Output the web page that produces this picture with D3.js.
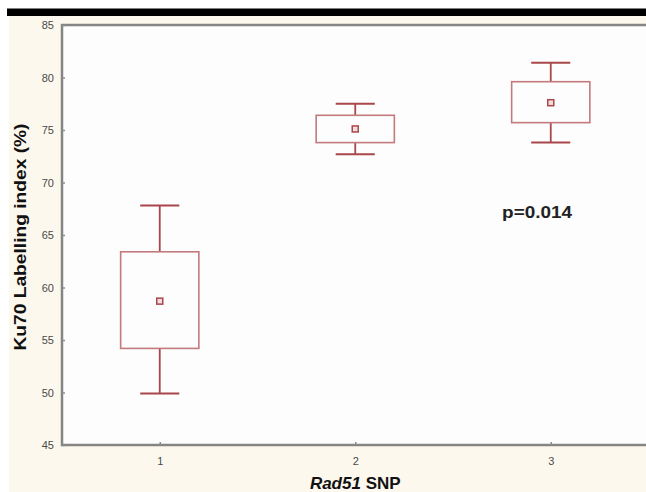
<!DOCTYPE html>
<html>
<head>
<meta charset="utf-8">
<script src="https://cdn.jsdelivr.net/npm/d3@7"></script>
<style>
  body { margin: 0; background: #ffffff; overflow: hidden; }
  svg { display: block; font-family: "Liberation Sans", Arial, sans-serif; }
</style>
</head>
<body>
<script>
// values
let categories = [1, 2, 3];
let whiskLow = [49.9, 72.7, 73.8];
let q1 = [54.2, 73.8, 75.7];
let medians = [58.7, 75.1, 77.6];
let q3 = [63.4, 76.4, 79.6];
let whiskHigh = [67.8, 77.5, 81.4];
let yTicks = [45, 50, 55, 60, 65, 70, 75, 80, 85];
let pLabel = "p=0.014";

let width = 646, height = 492;
let plotLeft = 62, plotRight = 648.5, plotTop = 25, plotBottom = 445;
let lineColor = "#a9474b";

var svg = d3.select("body").append("svg")
    .attr("width", width)
    .attr("height", height);

// page background: white strip, black bar, cream panel
svg.append("rect").attr("x", 0).attr("y", 0).attr("width", width).attr("height", height).attr("fill", "#ffffff");
svg.append("rect").attr("x", 9).attr("y", 16).attr("width", width - 9).attr("height", height - 16).attr("fill", "#fdf8ee");
svg.append("rect").attr("x", 7).attr("y", 8.5).attr("width", width - 7).attr("height", 7.5).attr("fill", "#000000");

var xScale = d3.scaleLinear()
    .domain([0.5, 3.5])
    .range([plotLeft, plotRight]);

var yScale = d3.scaleLinear()
    .domain([45, 85])
    .range([plotBottom, plotTop]);

// plot area
svg.append("rect")
    .attr("x", plotLeft).attr("y", plotTop)
    .attr("width", plotRight - plotLeft).attr("height", plotBottom - plotTop)
    .attr("fill", "#fdfdfd")
    .attr("stroke", "#858585")
    .attr("stroke-width", 2.5);

var yAxis = d3.axisLeft(yScale)
    .tickValues(yTicks)
    .tickSize(-3)
    .tickPadding(8)
    .tickFormat(d3.format("d"));
var xAxis = d3.axisBottom(xScale)
    .tickValues(categories)
    .tickSize(-3)
    .tickPadding(12)
    .tickFormat(d3.format("d"));

svg.append("g")
    .attr("class", "y axis")
    .attr("transform", "translate(" + plotLeft + ",0)")
    .call(yAxis);
svg.append("g")
    .attr("class", "x axis")
    .attr("transform", "translate(0," + plotBottom + ")")
    .call(xAxis);

svg.selectAll(".axis .domain").remove();
svg.selectAll(".axis .tick line").attr("stroke", "#8c8c8c").attr("stroke-width", 1.5);
svg.selectAll(".axis .tick text")
    .attr("fill", "#4a4a4a")
    .style("font-size", "11px");

// boxes
let boxW = 0.4, capW = 0.2;
let boxes = svg.append("g").attr("class", "boxes");
for (let i = 0; i < categories.length; ++i) {
    let c = categories[i];
    let g = boxes.append("g");
    // whisker stems
    g.append("line")
        .attr("x1", xScale(c)).attr("x2", xScale(c))
        .attr("y1", yScale(q3[i])).attr("y2", yScale(whiskHigh[i]))
        .attr("stroke", lineColor).attr("stroke-width", 1.8);
    g.append("line")
        .attr("x1", xScale(c)).attr("x2", xScale(c))
        .attr("y1", yScale(q1[i])).attr("y2", yScale(whiskLow[i]))
        .attr("stroke", lineColor).attr("stroke-width", 1.8);
    // caps
    g.append("line")
        .attr("x1", xScale(c - capW / 2)).attr("x2", xScale(c + capW / 2))
        .attr("y1", yScale(whiskHigh[i])).attr("y2", yScale(whiskHigh[i]))
        .attr("stroke", lineColor).attr("stroke-width", 2);
    g.append("line")
        .attr("x1", xScale(c - capW / 2)).attr("x2", xScale(c + capW / 2))
        .attr("y1", yScale(whiskLow[i])).attr("y2", yScale(whiskLow[i]))
        .attr("stroke", lineColor).attr("stroke-width", 2);
    // box
    g.append("rect")
        .attr("x", xScale(c - boxW / 2))
        .attr("y", yScale(q3[i]))
        .attr("width", xScale(c + boxW / 2) - xScale(c - boxW / 2))
        .attr("height", yScale(q1[i]) - yScale(q3[i]))
        .attr("fill", "none")
        .attr("stroke", "#c47a7d").attr("stroke-width", 1.6);
    // median marker
    g.append("rect")
        .attr("x", xScale(c) - 3).attr("y", yScale(medians[i]) - 3)
        .attr("width", 6).attr("height", 6)
        .attr("fill", "#f3dede")
        .attr("stroke", lineColor).attr("stroke-width", 1.5);
}

// annotation
svg.append("text")
    .attr("x", xScale(2.93))
    .attr("y", yScale(66.6))
    .attr("text-anchor", "middle")
    .attr("fill", "#222222")
    .attr("textLength", 70)
    .attr("lengthAdjust", "spacingAndGlyphs")
    .style("font-size", "17px")
    .style("font-weight", "bold")
    .text(pLabel);

// axis titles
svg.append("text")
    .attr("transform", "translate(26," + 237 + ") rotate(-90)")
    .attr("text-anchor", "middle")
    .attr("fill", "#111111")
    .attr("textLength", 227)
    .attr("lengthAdjust", "spacingAndGlyphs")
    .style("font-size", "16px")
    .style("font-weight", "bold")
    .text("Ku70 Labelling index (%)");

let xt = svg.append("text")
    .attr("x", xScale(2))
    .attr("y", 489)
    .attr("text-anchor", "middle")
    .attr("fill", "#111111")
    .style("font-size", "17px")
    .style("font-weight", "bold");
xt.append("tspan").style("font-style", "italic").text("Rad51");
xt.append("tspan").text(" SNP");
</script>
</body>
</html>
